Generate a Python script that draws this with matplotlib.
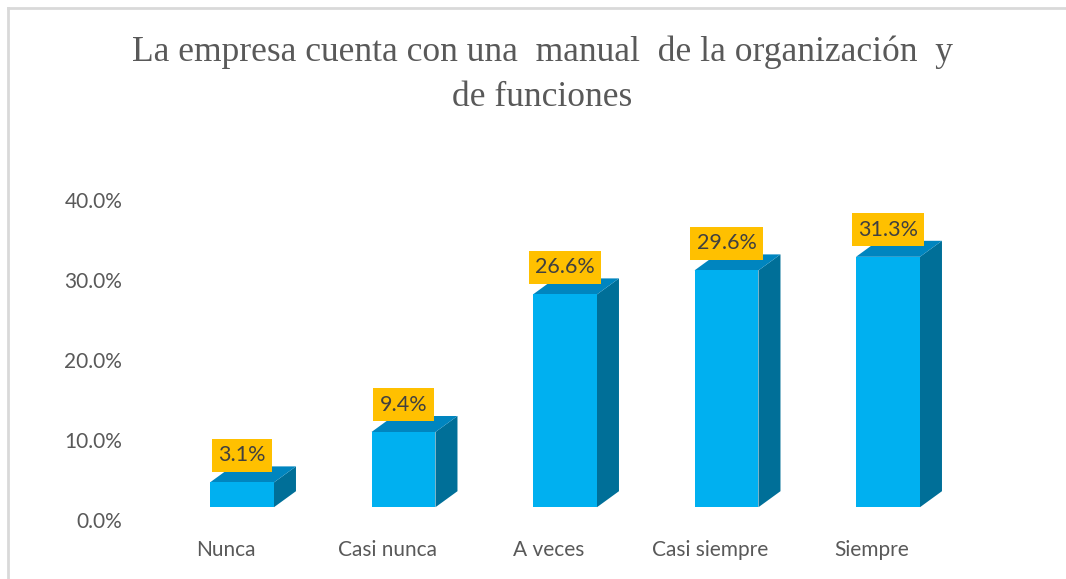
import matplotlib.pyplot as plt
from matplotlib.patches import Polygon
from matplotlib.lines import Line2D

# datos
categorias = ["Nunca", "Casi nunca", "A veces", "Casi siempre", "Siempre"]
porcentajes = [3.1, 9.4, 26.6, 29.6, 31.3]
ticks_y = [0, 10, 20, 30, 40]
titulo = "La empresa cuenta con una  manual  de la organización  y\nde funciones"

# colores estilo Excel 3D
c_frente = "#00B0F0"
c_techo = "#0085BF"
c_lado = "#006F98"
c_etiqueta = "#FFC000"
gris = "#595959"

W, H = 1066, 579
fig = plt.figure(figsize=(W / 100, H / 100), dpi=100)
fig.patch.set_facecolor("white")

# ejes: 0% en y=520px, 40% en y=200px; 1 categoria = 161.5px
paso = 161.5
x_ini = 150
x0 = (242 - x_ini) / paso
ax = fig.add_axes([x_ini / W, 1 - 520 / H, 900 / W, 320 / H])
ax.set_xlim(-x0, -x0 + 900 / paso)
ax.set_ylim(0, 40)
for s in ax.spines.values():
    s.set_visible(False)
ax.set_xticks([])
ax.set_yticks(ticks_y)
ax.set_yticklabels([f"{t:.1f}%" for t in ticks_y], fontsize=15, color=gris, family="Lato")
ax.tick_params(axis="y", length=0, pad=20)

base = 1.6      # piso frontal de las barras
w = 0.198       # media anchura de la cara frontal
dx = 22 / paso  # profundidad horizontal
dy = 2.0        # profundidad vertical

for i, v in enumerate(porcentajes):
    frente = Polygon([(i - w, base), (i + w, base), (i + w, base + v), (i - w, base + v)],
                     closed=True, facecolor=c_frente, edgecolor="none")
    techo = Polygon([(i - w, base + v), (i + w, base + v), (i + w + dx, base + v + dy),
                     (i - w + dx, base + v + dy)], closed=True, facecolor=c_techo, edgecolor="none")
    lado = Polygon([(i + w, base), (i + w + dx, base + dy), (i + w + dx, base + v + dy),
                    (i + w, base + v)], closed=True, facecolor=c_lado, edgecolor="none")
    for p in (lado, techo, frente):
        p.set_clip_on(False)
        ax.add_patch(p)
    ax.text(i, base + v + 3.4, f"{v:.1f}%", ha="center", va="center", fontsize=15.5,
            color="#404040", family="Lato",
            bbox=dict(boxstyle="square,pad=0.3", facecolor=c_etiqueta, edgecolor="none"))
    ax.text(i - 0.1, -3.75, categorias[i], ha="center", va="center", fontsize=15,
            color=gris, family="Lato", clip_on=False)

fig.text(542 / W, 1 - 75 / H, titulo, ha="center", va="center", fontsize=25.6,
         color=gris, family="Liberation Serif", linespacing=1.5)

# borde del grafico
fig.add_artist(Line2D([8 / W, 8 / W], [0, 1 - 8 / H], transform=fig.transFigure,
                      color="#D9D9D9", lw=2))
fig.add_artist(Line2D([8 / W, 1], [1 - 8 / H, 1 - 8 / H], transform=fig.transFigure,
                      color="#D9D9D9", lw=2))

fig.savefig("out.png", dpi=100)
